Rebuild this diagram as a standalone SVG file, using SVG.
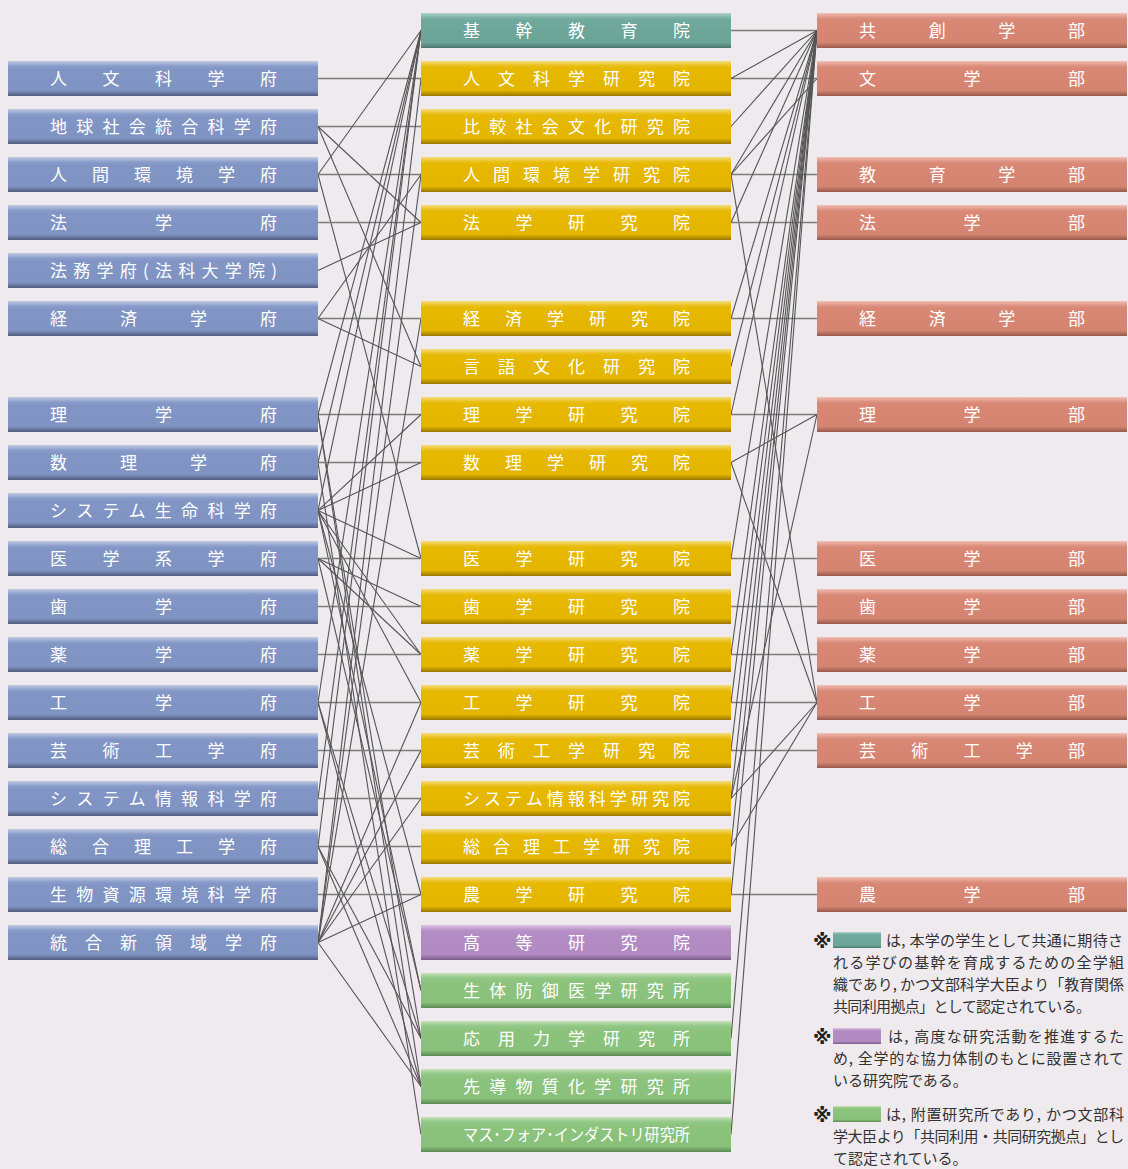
<svg xmlns="http://www.w3.org/2000/svg" width="1128" height="1169" viewBox="0 0 1128 1169">
<defs>
<linearGradient id="gB" x1="0" y1="0" x2="0" y2="1"><stop offset="0" stop-color="#c3cce6"/><stop offset="0.14" stop-color="#8a9dca"/><stop offset="0.22" stop-color="#8196c5"/><stop offset="0.84" stop-color="#7f93c2"/><stop offset="1" stop-color="#535d7c"/></linearGradient>
<linearGradient id="gT" x1="0" y1="0" x2="0" y2="1"><stop offset="0" stop-color="#afd3ca"/><stop offset="0.14" stop-color="#78afa3"/><stop offset="0.22" stop-color="#6fa89c"/><stop offset="0.84" stop-color="#6ca497"/><stop offset="1" stop-color="#4a776d"/></linearGradient>
<linearGradient id="gY" x1="0" y1="0" x2="0" y2="1"><stop offset="0" stop-color="#f4dc7c"/><stop offset="0.14" stop-color="#e9bf14"/><stop offset="0.22" stop-color="#e6b800"/><stop offset="0.84" stop-color="#e3b500"/><stop offset="1" stop-color="#967600"/></linearGradient>
<linearGradient id="gR" x1="0" y1="0" x2="0" y2="1"><stop offset="0" stop-color="#efbfb3"/><stop offset="0.14" stop-color="#dc8f7e"/><stop offset="0.22" stop-color="#d98775"/><stop offset="0.84" stop-color="#d68472"/><stop offset="1" stop-color="#985b4d"/></linearGradient>
<linearGradient id="gP" x1="0" y1="0" x2="0" y2="1"><stop offset="0" stop-color="#dbc4e4"/><stop offset="0.14" stop-color="#b994c8"/><stop offset="0.22" stop-color="#b48cc4"/><stop offset="0.84" stop-color="#b08ac0"/><stop offset="1" stop-color="#7b5d88"/></linearGradient>
<linearGradient id="gG" x1="0" y1="0" x2="0" y2="1"><stop offset="0" stop-color="#c3e3b9"/><stop offset="0.14" stop-color="#93c886"/><stop offset="0.22" stop-color="#8cc47e"/><stop offset="0.84" stop-color="#89c07b"/><stop offset="1" stop-color="#5d8a53"/></linearGradient>
</defs>
<style>
.lbl{font-family:"Noto Sans CJK JP","Noto Sans",sans-serif;font-size:17px;fill:#ffffff;}
.imi{font-size:16.5px;}
.note{font-family:"Noto Sans CJK JP","Noto Sans",sans-serif;font-size:15px;fill:#333333;}
.mark{font-family:"DejaVu Sans","Noto Sans CJK JP",sans-serif;font-size:19px;font-weight:bold;fill:#222222;}
.d{stroke:#555555;stroke-width:1.1;fill:none;}
.h{stroke:#7d7d7d;stroke-width:1.6;fill:none;}
</style>
<rect x="0" y="0" width="1128" height="1169" fill="#eeeaed"/>

<g id="connectors">
<!-- left: 学府 to 研究院 -->
<line class="h" x1="318" y1="78.5" x2="421" y2="78.5"/>
<line class="h" x1="318" y1="126.5" x2="421" y2="126.5"/>
<line class="d" x1="318" y1="126.5" x2="421" y2="222.5"/>
<line class="d" x1="318" y1="126.5" x2="421" y2="366.5"/>
<line class="h" x1="318" y1="174.5" x2="421" y2="174.5"/>
<line class="d" x1="318" y1="174.5" x2="421" y2="30.5"/>
<line class="d" x1="318" y1="174.5" x2="421" y2="558.5"/>
<line class="h" x1="318" y1="222.5" x2="421" y2="222.5"/>
<line class="d" x1="318" y1="270.5" x2="421" y2="222.5"/>
<line class="h" x1="318" y1="318.5" x2="421" y2="318.5"/>
<line class="d" x1="318" y1="318.5" x2="421" y2="174.5"/>
<line class="d" x1="318" y1="318.5" x2="421" y2="366.5"/>
<line class="h" x1="318" y1="414.5" x2="421" y2="414.5"/>
<line class="d" x1="318" y1="414.5" x2="421" y2="30.5"/>
<line class="d" x1="318" y1="414.5" x2="421" y2="1038.5"/>
<line class="d" x1="318" y1="414.5" x2="421" y2="1086.5"/>
<line class="h" x1="318" y1="462.5" x2="421" y2="462.5"/>
<line class="d" x1="318" y1="462.5" x2="421" y2="30.5"/>
<line class="d" x1="318" y1="462.5" x2="421" y2="1134.5"/>
<line class="d" x1="318" y1="510.5" x2="421" y2="30.5"/>
<line class="d" x1="318" y1="510.5" x2="421" y2="414.5"/>
<line class="d" x1="318" y1="510.5" x2="421" y2="462.5"/>
<line class="d" x1="318" y1="510.5" x2="421" y2="558.5"/>
<line class="d" x1="318" y1="510.5" x2="421" y2="654.5"/>
<line class="d" x1="318" y1="510.5" x2="421" y2="702.5"/>
<line class="d" x1="318" y1="510.5" x2="421" y2="894.5"/>
<line class="d" x1="318" y1="510.5" x2="421" y2="990.5"/>
<line class="h" x1="318" y1="558.5" x2="421" y2="558.5"/>
<line class="d" x1="318" y1="558.5" x2="421" y2="606.5"/>
<line class="d" x1="318" y1="558.5" x2="421" y2="654.5"/>
<line class="d" x1="318" y1="558.5" x2="421" y2="990.5"/>
<line class="h" x1="318" y1="606.5" x2="421" y2="606.5"/>
<line class="h" x1="318" y1="654.5" x2="421" y2="654.5"/>
<line class="h" x1="318" y1="702.5" x2="421" y2="702.5"/>
<line class="d" x1="318" y1="702.5" x2="421" y2="30.5"/>
<line class="d" x1="318" y1="702.5" x2="421" y2="1038.5"/>
<line class="d" x1="318" y1="702.5" x2="421" y2="1086.5"/>
<line class="h" x1="318" y1="750.5" x2="421" y2="750.5"/>
<line class="h" x1="318" y1="798.5" x2="421" y2="798.5"/>
<line class="d" x1="318" y1="798.5" x2="421" y2="30.5"/>
<line class="h" x1="318" y1="846.5" x2="421" y2="846.5"/>
<line class="d" x1="318" y1="846.5" x2="421" y2="30.5"/>
<line class="d" x1="318" y1="846.5" x2="421" y2="1038.5"/>
<line class="d" x1="318" y1="846.5" x2="421" y2="1086.5"/>
<line class="h" x1="318" y1="894.5" x2="421" y2="894.5"/>
<line class="d" x1="318" y1="942.5" x2="421" y2="894.5"/>
<line class="d" x1="318" y1="942.5" x2="421" y2="1086.5"/>
<line class="d" x1="318" y1="942.5" x2="421" y2="78.5"/>
<line class="d" x1="318" y1="942.5" x2="421" y2="174.5"/>
<line class="d" x1="318" y1="942.5" x2="421" y2="318.5"/>
<line class="d" x1="318" y1="942.5" x2="421" y2="702.5"/>
<line class="d" x1="318" y1="942.5" x2="421" y2="750.5"/>
<line class="d" x1="318" y1="942.5" x2="421" y2="798.5"/>
<!-- right: 研究院 to 学部 -->
<line class="h" x1="731" y1="30.5" x2="817" y2="30.5"/>
<line class="h" x1="731" y1="78.5" x2="817" y2="78.5"/>
<line class="d" x1="731" y1="78.5" x2="817" y2="30.5"/>
<line class="d" x1="731" y1="126.5" x2="817" y2="30.5"/>
<line class="h" x1="731" y1="174.5" x2="817" y2="174.5"/>
<line class="d" x1="731" y1="174.5" x2="817" y2="30.5"/>
<line class="d" x1="731" y1="174.5" x2="817" y2="78.5"/>
<line class="d" x1="731" y1="174.5" x2="817" y2="702.5"/>
<line class="h" x1="731" y1="222.5" x2="817" y2="222.5"/>
<line class="d" x1="731" y1="222.5" x2="817" y2="30.5"/>
<line class="h" x1="731" y1="318.5" x2="817" y2="318.5"/>
<line class="d" x1="731" y1="318.5" x2="817" y2="30.5"/>
<line class="d" x1="731" y1="366.5" x2="817" y2="30.5"/>
<line class="h" x1="731" y1="414.5" x2="817" y2="414.5"/>
<line class="d" x1="731" y1="414.5" x2="817" y2="30.5"/>
<line class="d" x1="731" y1="462.5" x2="817" y2="414.5"/>
<line class="d" x1="731" y1="462.5" x2="817" y2="702.5"/>
<line class="h" x1="731" y1="558.5" x2="817" y2="558.5"/>
<line class="d" x1="731" y1="558.5" x2="817" y2="30.5"/>
<line class="h" x1="731" y1="606.5" x2="817" y2="606.5"/>
<line class="h" x1="731" y1="654.5" x2="817" y2="654.5"/>
<line class="d" x1="731" y1="654.5" x2="817" y2="30.5"/>
<line class="h" x1="731" y1="702.5" x2="817" y2="702.5"/>
<line class="d" x1="731" y1="702.5" x2="817" y2="30.5"/>
<line class="h" x1="731" y1="750.5" x2="817" y2="750.5"/>
<line class="d" x1="731" y1="750.5" x2="817" y2="30.5"/>
<line class="d" x1="731" y1="798.5" x2="817" y2="30.5"/>
<line class="d" x1="731" y1="798.5" x2="817" y2="414.5"/>
<line class="d" x1="731" y1="798.5" x2="817" y2="702.5"/>
<line class="d" x1="731" y1="846.5" x2="817" y2="30.5"/>
<line class="d" x1="731" y1="846.5" x2="817" y2="702.5"/>
<line class="h" x1="731" y1="894.5" x2="817" y2="894.5"/>
<line class="d" x1="731" y1="894.5" x2="817" y2="30.5"/>
<line class="d" x1="731" y1="1038.5" x2="817" y2="30.5"/>
<line class="d" x1="731" y1="1134.5" x2="817" y2="30.5"/>
</g>

<g id="gakufu">
<g id="L-jinbun"><rect x="8" y="61" width="310" height="35" fill="url(#gB)"/><text class="lbl" x="50" y="85" textLength="227" lengthAdjust="spacing">人文科学府</text></g>
<g id="L-chikyu"><rect x="8" y="109" width="310" height="35" fill="url(#gB)"/><text class="lbl" x="50" y="133" textLength="227" lengthAdjust="spacing">地球社会統合科学府</text></g>
<g id="L-ningen"><rect x="8" y="157" width="310" height="35" fill="url(#gB)"/><text class="lbl" x="50" y="181" textLength="227" lengthAdjust="spacing">人間環境学府</text></g>
<g id="L-hou"><rect x="8" y="205" width="310" height="35" fill="url(#gB)"/><text class="lbl" x="50" y="229" textLength="227" lengthAdjust="spacing">法学府</text></g>
<g id="L-houmu"><rect x="8" y="253" width="310" height="35" fill="url(#gB)"/><text class="lbl" x="50" y="277" textLength="227" lengthAdjust="spacing">法務学府(法科大学院)</text></g>
<g id="L-keizai"><rect x="8" y="301" width="310" height="35" fill="url(#gB)"/><text class="lbl" x="50" y="325" textLength="227" lengthAdjust="spacing">経済学府</text></g>
<g id="L-ri"><rect x="8" y="397" width="310" height="35" fill="url(#gB)"/><text class="lbl" x="50" y="421" textLength="227" lengthAdjust="spacing">理学府</text></g>
<g id="L-suri"><rect x="8" y="445" width="310" height="35" fill="url(#gB)"/><text class="lbl" x="50" y="469" textLength="227" lengthAdjust="spacing">数理学府</text></g>
<g id="L-seimei"><rect x="8" y="493" width="310" height="35" fill="url(#gB)"/><text class="lbl" x="50" y="517" textLength="227" lengthAdjust="spacing">システム生命科学府</text></g>
<g id="L-igaku"><rect x="8" y="541" width="310" height="35" fill="url(#gB)"/><text class="lbl" x="50" y="565" textLength="227" lengthAdjust="spacing">医学系学府</text></g>
<g id="L-shi"><rect x="8" y="589" width="310" height="35" fill="url(#gB)"/><text class="lbl" x="50" y="613" textLength="227" lengthAdjust="spacing">歯学府</text></g>
<g id="L-yaku"><rect x="8" y="637" width="310" height="35" fill="url(#gB)"/><text class="lbl" x="50" y="661" textLength="227" lengthAdjust="spacing">薬学府</text></g>
<g id="L-kou"><rect x="8" y="685" width="310" height="35" fill="url(#gB)"/><text class="lbl" x="50" y="709" textLength="227" lengthAdjust="spacing">工学府</text></g>
<g id="L-geikou"><rect x="8" y="733" width="310" height="35" fill="url(#gB)"/><text class="lbl" x="50" y="757" textLength="227" lengthAdjust="spacing">芸術工学府</text></g>
<g id="L-joho"><rect x="8" y="781" width="310" height="35" fill="url(#gB)"/><text class="lbl" x="50" y="805" textLength="227" lengthAdjust="spacing">システム情報科学府</text></g>
<g id="L-sougou"><rect x="8" y="829" width="310" height="35" fill="url(#gB)"/><text class="lbl" x="50" y="853" textLength="227" lengthAdjust="spacing">総合理工学府</text></g>
<g id="L-seibutsu"><rect x="8" y="877" width="310" height="35" fill="url(#gB)"/><text class="lbl" x="50" y="901" textLength="227" lengthAdjust="spacing">生物資源環境科学府</text></g>
<g id="L-tougou"><rect x="8" y="925" width="310" height="35" fill="url(#gB)"/><text class="lbl" x="50" y="949" textLength="227" lengthAdjust="spacing">統合新領域学府</text></g>
</g>

<g id="kenkyuin">
<g id="M-kikan"><rect x="421" y="13" width="310" height="35" fill="url(#gT)"/><text class="lbl" x="463" y="37" textLength="227" lengthAdjust="spacing">基幹教育院</text></g>
<g id="M-jinbun"><rect x="421" y="61" width="310" height="35" fill="url(#gY)"/><text class="lbl" x="463" y="85" textLength="227" lengthAdjust="spacing">人文科学研究院</text></g>
<g id="M-hikaku"><rect x="421" y="109" width="310" height="35" fill="url(#gY)"/><text class="lbl" x="463" y="133" textLength="227" lengthAdjust="spacing">比較社会文化研究院</text></g>
<g id="M-ningen"><rect x="421" y="157" width="310" height="35" fill="url(#gY)"/><text class="lbl" x="463" y="181" textLength="227" lengthAdjust="spacing">人間環境学研究院</text></g>
<g id="M-hou"><rect x="421" y="205" width="310" height="35" fill="url(#gY)"/><text class="lbl" x="463" y="229" textLength="227" lengthAdjust="spacing">法学研究院</text></g>
<g id="M-keizai"><rect x="421" y="301" width="310" height="35" fill="url(#gY)"/><text class="lbl" x="463" y="325" textLength="227" lengthAdjust="spacing">経済学研究院</text></g>
<g id="M-gengo"><rect x="421" y="349" width="310" height="35" fill="url(#gY)"/><text class="lbl" x="463" y="373" textLength="227" lengthAdjust="spacing">言語文化研究院</text></g>
<g id="M-ri"><rect x="421" y="397" width="310" height="35" fill="url(#gY)"/><text class="lbl" x="463" y="421" textLength="227" lengthAdjust="spacing">理学研究院</text></g>
<g id="M-suri"><rect x="421" y="445" width="310" height="35" fill="url(#gY)"/><text class="lbl" x="463" y="469" textLength="227" lengthAdjust="spacing">数理学研究院</text></g>
<g id="M-igaku"><rect x="421" y="541" width="310" height="35" fill="url(#gY)"/><text class="lbl" x="463" y="565" textLength="227" lengthAdjust="spacing">医学研究院</text></g>
<g id="M-shi"><rect x="421" y="589" width="310" height="35" fill="url(#gY)"/><text class="lbl" x="463" y="613" textLength="227" lengthAdjust="spacing">歯学研究院</text></g>
<g id="M-yaku"><rect x="421" y="637" width="310" height="35" fill="url(#gY)"/><text class="lbl" x="463" y="661" textLength="227" lengthAdjust="spacing">薬学研究院</text></g>
<g id="M-kou"><rect x="421" y="685" width="310" height="35" fill="url(#gY)"/><text class="lbl" x="463" y="709" textLength="227" lengthAdjust="spacing">工学研究院</text></g>
<g id="M-geikou"><rect x="421" y="733" width="310" height="35" fill="url(#gY)"/><text class="lbl" x="463" y="757" textLength="227" lengthAdjust="spacing">芸術工学研究院</text></g>
<g id="M-joho"><rect x="421" y="781" width="310" height="35" fill="url(#gY)"/><text class="lbl" x="463" y="805" textLength="227" lengthAdjust="spacing">システム情報科学研究院</text></g>
<g id="M-sougou"><rect x="421" y="829" width="310" height="35" fill="url(#gY)"/><text class="lbl" x="463" y="853" textLength="227" lengthAdjust="spacing">総合理工学研究院</text></g>
<g id="M-nou"><rect x="421" y="877" width="310" height="35" fill="url(#gY)"/><text class="lbl" x="463" y="901" textLength="227" lengthAdjust="spacing">農学研究院</text></g>
<g id="M-koutou"><rect x="421" y="925" width="310" height="35" fill="url(#gP)"/><text class="lbl" x="463" y="949" textLength="227" lengthAdjust="spacing">高等研究院</text></g>
<g id="M-seitai"><rect x="421" y="973" width="310" height="35" fill="url(#gG)"/><text class="lbl" x="463" y="997" textLength="227" lengthAdjust="spacing">生体防御医学研究所</text></g>
<g id="M-ouyou"><rect x="421" y="1021" width="310" height="35" fill="url(#gG)"/><text class="lbl" x="463" y="1045" textLength="227" lengthAdjust="spacing">応用力学研究所</text></g>
<g id="M-sendou"><rect x="421" y="1069" width="310" height="35" fill="url(#gG)"/><text class="lbl" x="463" y="1093" textLength="227" lengthAdjust="spacing">先導物質化学研究所</text></g>
<g id="M-imi"><rect x="421" y="1117" width="310" height="35" fill="url(#gG)"/><text class="lbl imi" x="463" y="1141" textLength="227" lengthAdjust="spacingAndGlyphs">マス･フォア･インダストリ研究所</text></g>
</g>

<g id="gakubu">
<g id="R-kyousou"><rect x="817" y="13" width="310" height="35" fill="url(#gR)"/><text class="lbl" x="859" y="37" textLength="226" lengthAdjust="spacing">共創学部</text></g>
<g id="R-bun"><rect x="817" y="61" width="310" height="35" fill="url(#gR)"/><text class="lbl" x="859" y="85" textLength="226" lengthAdjust="spacing">文学部</text></g>
<g id="R-kyouiku"><rect x="817" y="157" width="310" height="35" fill="url(#gR)"/><text class="lbl" x="859" y="181" textLength="226" lengthAdjust="spacing">教育学部</text></g>
<g id="R-hou"><rect x="817" y="205" width="310" height="35" fill="url(#gR)"/><text class="lbl" x="859" y="229" textLength="226" lengthAdjust="spacing">法学部</text></g>
<g id="R-keizai"><rect x="817" y="301" width="310" height="35" fill="url(#gR)"/><text class="lbl" x="859" y="325" textLength="226" lengthAdjust="spacing">経済学部</text></g>
<g id="R-ri"><rect x="817" y="397" width="310" height="35" fill="url(#gR)"/><text class="lbl" x="859" y="421" textLength="226" lengthAdjust="spacing">理学部</text></g>
<g id="R-igaku"><rect x="817" y="541" width="310" height="35" fill="url(#gR)"/><text class="lbl" x="859" y="565" textLength="226" lengthAdjust="spacing">医学部</text></g>
<g id="R-shi"><rect x="817" y="589" width="310" height="35" fill="url(#gR)"/><text class="lbl" x="859" y="613" textLength="226" lengthAdjust="spacing">歯学部</text></g>
<g id="R-yaku"><rect x="817" y="637" width="310" height="35" fill="url(#gR)"/><text class="lbl" x="859" y="661" textLength="226" lengthAdjust="spacing">薬学部</text></g>
<g id="R-kou"><rect x="817" y="685" width="310" height="35" fill="url(#gR)"/><text class="lbl" x="859" y="709" textLength="226" lengthAdjust="spacing">工学部</text></g>
<g id="R-geikou"><rect x="817" y="733" width="310" height="35" fill="url(#gR)"/><text class="lbl" x="859" y="757" textLength="226" lengthAdjust="spacing">芸術工学部</text></g>
<g id="R-nou"><rect x="817" y="877" width="310" height="35" fill="url(#gR)"/><text class="lbl" x="859" y="901" textLength="226" lengthAdjust="spacing">農学部</text></g>
</g>

<g id="legend">
<text class="mark" x="813" y="948">※</text>
<rect x="833" y="932" width="48" height="16" fill="url(#gT)"/>
<text class="note" x="886" y="946" textLength="237" lengthAdjust="spacing">は, 本学の学生として共通に期待さ</text>
<text class="note" x="833" y="968" textLength="291" lengthAdjust="spacing">れる学びの基幹を育成するための全学組</text>
<text class="note" x="833" y="990" textLength="291" lengthAdjust="spacing">織であり, かつ文部科学大臣より「教育関係</text>
<text class="note" x="833" y="1012" textLength="258" lengthAdjust="spacing">共同利用拠点」として認定されている。</text>
<text class="mark" x="813" y="1044">※</text>
<rect x="833" y="1028" width="48" height="16" fill="url(#gP)"/>
<text class="note" x="888" y="1042" textLength="236" lengthAdjust="spacing">は, 高度な研究活動を推進するた</text>
<text class="note" x="833" y="1064" textLength="291" lengthAdjust="spacing">め, 全学的な協力体制のもとに設置されて</text>
<text class="note" x="833" y="1086">いる研究院である。</text>
<text class="mark" x="813" y="1122">※</text>
<rect x="833" y="1106" width="48" height="16" fill="url(#gG)"/>
<text class="note" x="886" y="1120" textLength="238" lengthAdjust="spacing">は, 附置研究所であり, かつ文部科</text>
<text class="note" x="833" y="1142" textLength="291" lengthAdjust="spacing">学大臣より「共同利用・共同研究拠点」とし</text>
<text class="note" x="833" y="1164">て認定されている。</text>
</g>
</svg>
